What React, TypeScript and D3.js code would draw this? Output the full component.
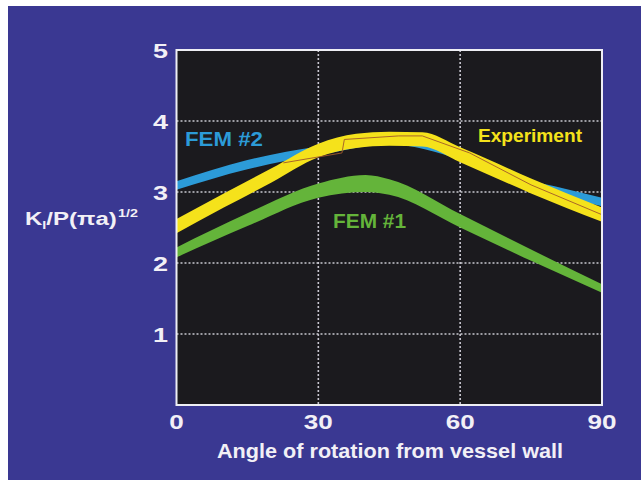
import React from "react";

import * as d3 from "d3";

// Experiment band (yellow)
const expAngles = [0, 10, 20, 30, 38, 45, 52, 60, 75, 90];
const expLow = [2.42, 2.78, 3.13, 3.49, 3.62, 3.65, 3.64, 3.42, 2.98, 2.58];
const expHigh = [2.62, 2.98, 3.33, 3.68, 3.82, 3.85, 3.84, 3.63, 3.19, 2.78];

// FEM #2 band (blue)
const fem2Angles = [0, 15, 30, 45, 60, 70, 80, 90];
const fem2Low = [3.03, 3.32, 3.52, 3.67, 3.45, 3.15, 2.96, 2.8];
const fem2High = [3.15, 3.45, 3.64, 3.76, 3.5, 3.24, 3.08, 2.92];

// FEM #1 band (green)
const fem1Angles = [0, 15, 30, 40, 45, 60, 75, 90];
const fem1Low = [2.08, 2.52, 2.92, 3.0, 2.96, 2.5, 2.03, 1.58];
const fem1High = [2.22, 2.7, 3.12, 3.24, 3.18, 2.69, 2.19, 1.7];

// thin trace inside the experiment band
const traceAngles = [22.6, 35, 35.5, 47, 52, 62, 75, 90];
const traceValues = [3.41, 3.55, 3.74, 3.79, 3.79, 3.55, 3.1, 2.68];

const xTicks = [0, 30, 60, 90];
const yTicks = [1, 2, 3, 4, 5];

const FONT = "'Liberation Sans', Arial, Helvetica, sans-serif";

type Pt = { x: number; lo: number; hi: number };

const toBand = (xs: number[], lo: number[], hi: number[]): Pt[] =>
  xs.map((x, i) => ({ x, lo: lo[i], hi: hi[i] }));

const App: React.FC = () => {
  const width = 641;
  const height = 480;

  const plot = { left: 176.5, right: 602, top: 50, bottom: 405 };

  const x = d3.scaleLinear().domain([0, 90]).range([plot.left, plot.right]);
  const y = d3.scaleLinear().domain([0, 5]).range([plot.bottom, plot.top]);

  const area = d3
    .area<Pt>()
    .x((d) => x(d.x))
    .y0((d) => y(d.lo))
    .y1((d) => y(d.hi))
    .curve(d3.curveMonotoneX);

  const trace = d3
    .line<number>()
    .x((_, i) => x(traceAngles[i]))
    .y((d) => y(d));

  const bands = [
    { key: "fem2", data: toBand(fem2Angles, fem2Low, fem2High), color: "#2c9bd8" },
    { key: "fem1", data: toBand(fem1Angles, fem1Low, fem1High), color: "#64b43a" },
    { key: "exp", data: toBand(expAngles, expLow, expHigh), color: "#f5e21b" },
  ];

  return (
    <svg
      width={width}
      height={height}
      style={{ position: "absolute", left: 0, top: 0, background: "#fff" }}
      fontFamily={FONT}
    >
      {/* slide background */}
      <rect x={8} y={6} width={width - 8} height={height - 6} fill="#3a3892" />

      {/* plot area */}
      <rect
        x={plot.left}
        y={plot.top}
        width={plot.right - plot.left}
        height={plot.bottom - plot.top}
        fill="#1b1a1e"
      />

      {/* dotted grid */}
      <g stroke="#e8e6f0" strokeWidth={1.6} strokeDasharray="2,2" opacity={0.85}>
        {xTicks.slice(1, -1).map((t) => (
          <line key={t} x1={x(t)} x2={x(t)} y1={plot.top} y2={plot.bottom} />
        ))}
        {yTicks.slice(0, -1).map((t) => (
          <line key={t} x1={plot.left} x2={plot.right} y1={y(t)} y2={y(t)} />
        ))}
      </g>

      {/* bands */}
      {bands.map((b) => (
        <path key={b.key} d={area(b.data) ?? ""} fill={b.color} />
      ))}
      <path d={trace(traceValues) ?? ""} fill="none" stroke="#a0582a" strokeWidth={0.9} />

      {/* frame */}
      <rect
        x={plot.left}
        y={plot.top}
        width={plot.right - plot.left}
        height={plot.bottom - plot.top}
        fill="none"
        stroke="#eeeef4"
        strokeWidth={2}
      />

      {/* y tick labels */}
      <g fill="#f2f0f6" fontSize={21} fontWeight="bold" textAnchor="end">
        {yTicks.map((t) => (
          <text key={t} x={168} y={y(t) + 7.5} textLength={15} lengthAdjust="spacingAndGlyphs">
            {t}
          </text>
        ))}
      </g>

      {/* x tick labels */}
      <g fill="#f2f0f6" fontSize={20.5} fontWeight="bold" textAnchor="middle">
        {xTicks.map((t) => (
          <text
            key={t}
            x={x(t)}
            y={429}
            textLength={String(t).length * 14.5}
            lengthAdjust="spacingAndGlyphs"
          >
            {t}
          </text>
        ))}
      </g>

      {/* axis titles */}
      <text
        x={390}
        y={457.5}
        fill="#f2f0f6"
        fontSize={21}
        fontWeight="bold"
        textAnchor="middle"
        textLength={346}
        lengthAdjust="spacingAndGlyphs"
      >
        Angle of rotation from vessel wall
      </text>
      <text
        transform="translate(25,225) scale(1.3,1)"
        fill="#f2f0f6"
        fontSize={18.5}
        fontWeight="bold"
      >
        K
        <tspan fontSize={11} dy={4}>
          I
        </tspan>
        <tspan dy={-4}>/P(πa)</tspan>
        <tspan fontSize={11} dx={1} dy={-8}>
          1/2
        </tspan>
      </text>

      {/* series labels */}
      <g fontWeight="bold">
        <text x={185} y={146} fill="#2c9bd8" fontSize={20} textLength={78} lengthAdjust="spacingAndGlyphs">
          FEM #2
        </text>
        <text x={478} y={141.5} fill="#f5e21b" fontSize={19} textLength={104} lengthAdjust="spacingAndGlyphs">
          Experiment
        </text>
        <text x={333} y={228} fill="#64b43a" fontSize={20} textLength={73} lengthAdjust="spacingAndGlyphs">
          FEM #1
        </text>
      </g>
    </svg>
  );
};

export default App;
